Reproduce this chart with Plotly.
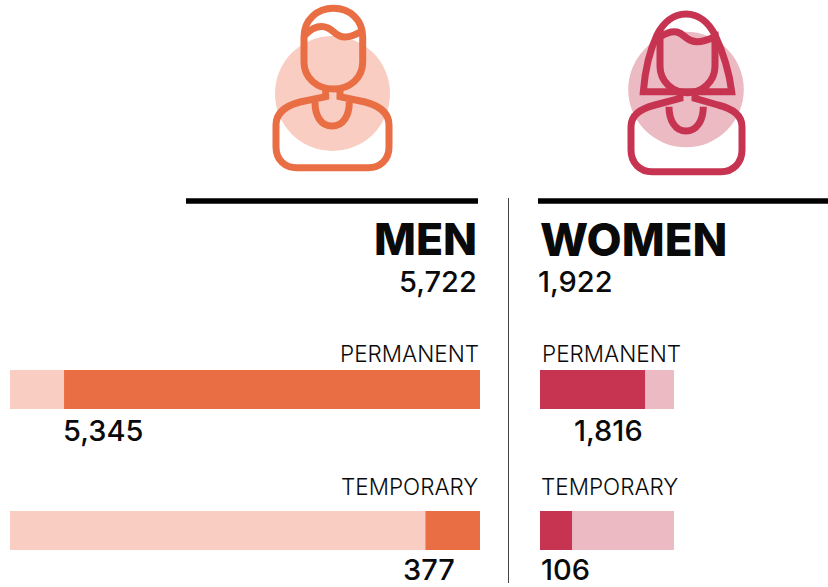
import re
import plotly.graph_objects as go

W, H = 828, 587
types = ["PERMANENT", "TEMPORARY"]
men_total = 5722
women_total = 1922
men_values = [5345, 377]
women_values = [1816, 106]
# bar fill as share of its track
men_share = [88.5, 11.6]
women_share = [78.4, 23.9]
track = [100, 100]

ORANGE, ORANGE_L = "#E96E44", "#F9CDC2"
RED, RED_L = "#C73451", "#EBBAC3"
FONT = "Inter"


def px_path(d):
    return re.sub(r"(-?[\d.]+),(-?[\d.]+)",
                  lambda m: f"{float(m[1]) / W:.5f},{1 - float(m[2]) / H:.5f}", d)


def outline(d, color, width=7):
    return dict(type="path", xref="paper", yref="paper", path=px_path(d),
                line=dict(color=color, width=width), fillcolor="rgba(0,0,0,0)", layer="above")


def disc(cx, cy, r, color):
    return dict(type="circle", xref="paper", yref="paper", x0=(cx - r) / W, x1=(cx + r) / W,
                y0=1 - (cy + r) / H, y1=1 - (cy - r) / H, fillcolor=color, line=dict(width=0), layer="below")


def rule(x0, y0, x1, y1, color, width):
    return dict(type="line", xref="paper", yref="paper", x0=x0 / W, x1=x1 / W, y0=1 - y0 / H, y1=1 - y1 / H,
                line=dict(color=color, width=width))


def label(text, x, y, anchor, size, weight=400):
    return dict(text=text, x=x / W, y=1 - y / H, xref="paper", yref="paper", xanchor=anchor, yanchor="middle",
                showarrow=False, xshift=0, borderpad=0,
                font=dict(family=FONT, size=size, color="#0a0a0a", weight=weight))


men_icon = [
    "M304,37 C304,20 317,8.3 333.5,8.3 C350,8.3 362.7,20 362.7,37 L362.7,62 C362.7,78 350,89 333.5,89 C317,89 304,78 304,62 Z",
    "M305,35 C312,28 320,24.5 328,28 C335,31 336,37 345,37 C352,37 357,34 362,31",
    "M325.7,89 L325.7,96.7 L300,102 C285,106 276,113 276,125 L276,147 C276,160 285,167.7 297,167.7 L368,167.7 "
    "C380,167.7 389,160 389,147 L389,125 C389,113 380,106 365,102 L340,96.7 L340,89",
    "M315,102 C315,116 321,126 332,126 C343,126 349.3,116 349.3,102",
]
women_icon = [
    "M643.3,91.7 C645,70 650,50 657,35 C663,23 673,14 686,14 C699,14 709,23 715,35 C722,50 729,70 731.7,91.7 Z",
    "M660,37 C666,33 671,31 677,32 C685,34 686,41.7 697,41.7 C704,41.7 710,39 715,36.7 L715,66 C715,82 702,92.7 687.5,92.7 "
    "C673,92.7 660,82 660,66 Z",
    "M680,92.7 L680,98.3 L655,105 C640,109 631,115 631,127 L631,150 C631,163 640,171.7 652,171.7 L721,171.7 "
    "C733,171.7 742,163 742,150 L742,127 C742,115 733,109 718,105 L695,98.3 L695,92.7",
    "M669,106.7 C669,120 675,131 686,131 C697,131 703.3,120 703.3,106.7",
]

fig = go.Figure()
for xa, ya, track_c, c, share in (("x", "y", ORANGE_L, ORANGE, men_share), ("x2", "y2", RED_L, RED, women_share)):
    fig.add_bar(y=types, x=track, orientation="h", width=39 / 141, marker=dict(color=track_c, line_width=0),
                xaxis=xa, yaxis=ya, hoverinfo="skip", showlegend=False)
    fig.add_bar(y=types, x=share, orientation="h", width=39 / 141, marker=dict(color=c, line_width=0),
                xaxis=xa, yaxis=ya, hoverinfo="skip", showlegend=False)

yax = dict(domain=[0, 1 - 319 / H], range=[1.4007, -0.5], type="category", categoryorder="array",
           categoryarray=types, visible=False, fixedrange=True)
shapes = [disc(332.5, 93.5, 57.5, ORANGE_L), disc(686, 89.5, 57.8, RED_L),
          rule(186, 201, 478, 201, "#000000", 5.5), rule(538, 201, 828, 201, "#000000", 5.5),
          rule(508.5, 198, 508.5, 583, "#444444", 1)]
shapes += [outline(d, ORANGE) for d in men_icon] + [outline(d, RED) for d in women_icon]

annotations = [
    label("MEN", 477.5, 239.5, "right", 44.5, 800),
    label("WOMEN", 538.5, 239.5, "left", 45.5, 800),
    label(f"{men_total:,}", 478, 281, "right", 29, 500),
    label(f"{women_total:,}", 537, 281, "left", 29, 500),
    label(types[0], 480, 353, "right", 22.5, 300),
    label(types[0], 541, 353, "left", 22.5, 300),
    label(types[1], 479, 486, "right", 22.5, 300),
    label(types[1], 540, 486, "left", 22.5, 300),
    label(f"{men_values[0]:,}", 102.5, 430, "center", 29, 500),
    label(f"{women_values[0]:,}", 608, 430, "center", 29, 500),
    label(f"{men_values[1]:,}", 455.5, 569.5, "right", 29, 500),
    label(f"{women_values[1]:,}", 539.5, 569.5, "left", 29, 500),
]

fig.update_layout(
    width=W, height=H, margin=dict(l=0, r=0, t=0, b=0), barmode="overlay",
    paper_bgcolor="white", plot_bgcolor="rgba(0,0,0,0)", shapes=shapes, annotations=annotations,
    xaxis=dict(domain=[10 / W, 480 / W], range=[100, 0], visible=False, fixedrange=True, anchor="y"),
    xaxis2=dict(domain=[540 / W, 674 / W], range=[0, 100], visible=False, fixedrange=True, anchor="y2"),
    yaxis=dict(yax, anchor="x"), yaxis2=dict(yax, anchor="x2"),
)
fig.write_html("out.html", config=dict(displayModeBar=False),
               post_script="document.body.style.margin='0';document.documentElement.style.overflow='hidden';")
